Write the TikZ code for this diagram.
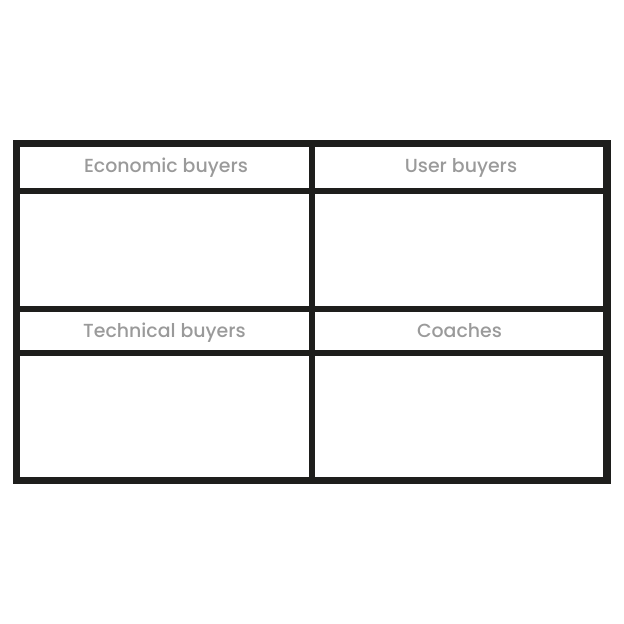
\documentclass[tikz,border=0pt]{standalone}
\usepackage{fontspec}
\setmainfont{Poppins}
\newfontfamily\headfont{Poppins Medium}
\definecolor{frame}{HTML}{1E1E1C}
\definecolor{label}{HTML}{9A9A9A}
\begin{document}
\begin{tikzpicture}[x=1bp,y=-1bp,
  outer/.style={draw=frame,line width=7.5bp,line join=miter},
  rule/.style={draw=frame,line width=5.5bp},
  head/.style={text=label,font=\headfont\fontsize{19}{22}\selectfont,anchor=base,inner sep=0pt}]
  \useasboundingbox (0,0) rectangle (624,624);
  % grid corners
  \coordinate (tl) at (16.7,143.7);
  \coordinate (br) at (607.2,480.5);
  % inner dividers
  \draw[rule] (312,143.7) -- (312,480.5);
  \draw[rule] (16.7,190.8) -- (607.2,190.8);
  \draw[rule] (16.7,309) -- (607.2,309);
  \draw[rule] (16.7,353) -- (607.2,353);
  % outer frame
  \draw[outer] (tl) rectangle (br);
  % column headers
  \node[head] (econ) at (166,172.7) {Economic buyers};
  \node[head] (user) at (461,172.7) {User buyers};
  \node[head] (tech) at (164.5,337.5) {Technical buyers};
  \node[head] (coach) at (459.5,337.5) {Coaches};
\end{tikzpicture}
\end{document}
